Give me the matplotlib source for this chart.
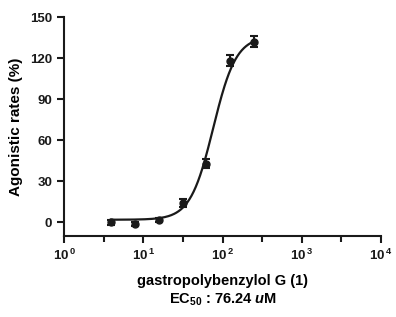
import numpy as np
import matplotlib
matplotlib.use("Agg")
import matplotlib.pyplot as plt
from matplotlib.ticker import FixedLocator, NullFormatter

plt.rcParams['font.family'] = ['Liberation Sans', 'DejaVu Sans']
plt.rcParams['font.weight'] = 'bold'
plt.rcParams['mathtext.fontset'] = 'custom'
plt.rcParams['mathtext.rm'] = 'Liberation Sans:bold'
plt.rcParams['mathtext.it'] = 'Liberation Sans:bold:italic'
plt.rcParams['mathtext.bf'] = 'Liberation Sans:bold'

conc = [3.9, 7.8, 15.6, 31.25, 62.5, 125, 250]
rate = [0.0, -1.0, 1.5, 14.0, 43.0, 118.0, 132.0]
err = [1.5, 1.5, 1.5, 3.0, 3.5, 4.0, 4.0]

bottom, top, ec50, hill = 2.0, 136.0, 76.24, 3.0

fig = plt.figure(figsize=(3.96, 3.17), dpi=100)
ax = fig.add_axes([0.162, 0.255, 0.8, 0.691])

xs = np.logspace(np.log10(conc[0]), np.log10(conc[-1]), 200)
ys = bottom + (top - bottom) / (1 + (ec50 / xs) ** hill)
ax.plot(xs, ys, color='#1a1a1a', lw=1.6)
ax.errorbar(conc, rate, yerr=err, fmt='o', color='#1a1a1a', ms=5,
            elinewidth=1.5, capsize=3, capthick=1.5)

ax.set_xscale('log')
ax.set_xlim(1, 1e4)
ax.set_ylim(-10, 150)
ax.set_yticks([0, 30, 60, 90, 120, 150])
ax.set_xticks([1, 10, 100, 1000, 10000])
ax.set_xticklabels([r'10$^{\,0}$', r'10$^{\,1}$', r'10$^{\,2}$', r'10$^{\,3}$', r'10$^{\,4}$'])
ax.xaxis.set_minor_locator(FixedLocator([10 ** (k + 0.5) for k in range(4)]))
ax.xaxis.set_minor_formatter(NullFormatter())

for s in ['top', 'right']:
    ax.spines[s].set_visible(False)
for s in ['left', 'bottom']:
    ax.spines[s].set_linewidth(1.5)
    ax.spines[s].set_color('#1a1a1a')
ax.tick_params(which='major', length=5, width=1.5, labelsize=9.5, colors='#1a1a1a')
ax.tick_params(which='minor', length=4, width=1.5, colors='#1a1a1a')

ax.set_ylabel('Agonistic rates (%)', fontsize=11, fontweight='bold', labelpad=5)
ax.set_xlabel('gastropolybenzylol G (1)\nEC$_{50}$ : 76.24 $u$M', fontsize=10.5,
              fontweight='bold', labelpad=8, linespacing=1.25)

fig.savefig('out.png', dpi=100)
